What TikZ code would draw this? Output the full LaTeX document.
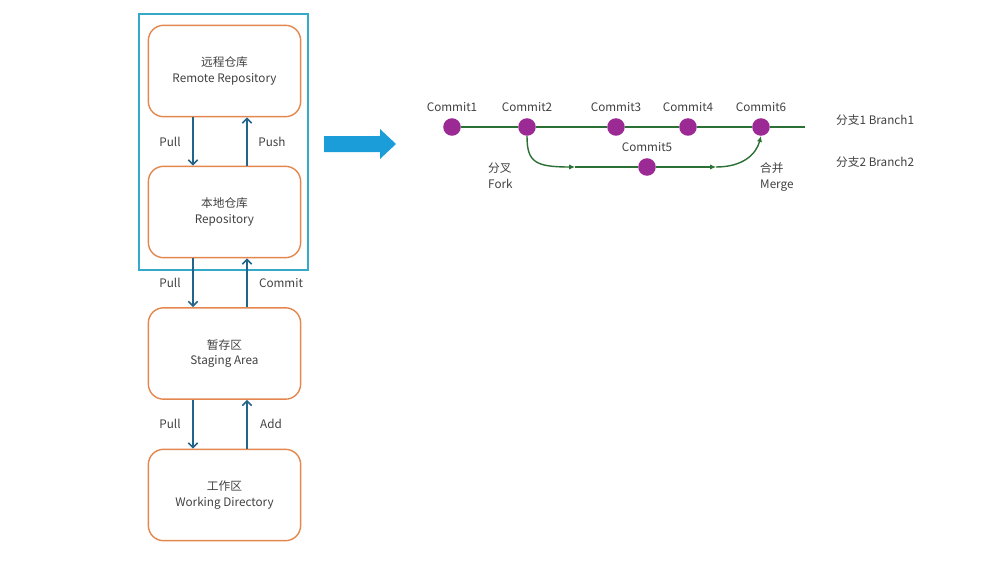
\documentclass[tikz,border=0pt]{standalone}
\usepackage{fontspec}
\setmainfont{Noto Sans CJK SC}
\usetikzlibrary{arrows.meta}
\definecolor{framecol}{HTML}{35A9CC}
\definecolor{areacol}{HTML}{E4874E}
\definecolor{flowcol}{HTML}{23648A}
\definecolor{bigcol}{HTML}{1B9DD9}
\definecolor{commitcol}{HTML}{9C2A94}
\definecolor{branchcol}{HTML}{2B7034}
\definecolor{textcol}{HTML}{404040}
\begin{document}
\begin{tikzpicture}[x=0.03cm,y=-0.03cm]
\tikzstyle{every node}+=[inner sep=0pt, text=textcol, font=\fontsize{10}{13.6}\selectfont]
\tikzstyle{area}=[draw=areacol, line width=1.2pt, rounded corners=13pt, minimum width=130pt, minimum height=78pt, align=center]
\tikzstyle{flow}=[draw=flowcol, line width=1.5pt, -{Straight Barb[length=4pt,width=8pt,line width=1.3pt]}]
\tikzstyle{commit}=[circle, fill=commitcol, minimum size=15pt]
\tikzstyle{branch}=[draw=branchcol, line width=1.2pt]
\tikzstyle{tip}=[-{Latex[length=5pt,width=4.5pt]}]
\useasboundingbox (0,0) rectangle (1000,562);

\draw [framecol, line width=1.2pt] (139,14) rectangle (308,270);

\node [area] (remote) at (224.5,71) {远程仓库\\Remote Repository};
\node [area] (local) at (224.5,212) {本地仓库\\Repository};
\node [area] (stage) at (224.5,353.5) {暂存区\\Staging Area};
\node [area] (work) at (224.5,495) {工作区\\Working Directory};

\coordinate (downx) at (193,0);
\coordinate (upx) at (247,0);
\draw [flow] (remote.south -| downx) -- (local.north -| downx);
\draw [flow] (local.north -| upx) -- (remote.south -| upx);
\draw [flow] (local.south -| downx) -- (stage.north -| downx);
\draw [flow] (stage.north -| upx) -- (local.south -| upx);
\draw [flow] (stage.south -| downx) -- (work.north -| downx);
\draw [flow] (work.north -| upx) -- (stage.south -| upx);
\node (pull1) at (170,142) {Pull};
\node (push) at (272,142) {Push};
\node (pull2) at (170,283) {Pull};
\node (commitlbl) at (281,283) {Commit};
\node (pull3) at (170,424) {Pull};
\node (add) at (271,424) {Add};

\fill [bigcol] (324,136) -- (380,136) -- (380,129) -- (396,144) -- (380,159) -- (380,152) -- (324,152) -- cycle;

\node [commit, label={[label distance=5pt]above:Commit1}] (c1) at (452,127) {};
\node [commit, label={[label distance=5pt]above:Commit2}] (c2) at (527,127) {};
\node [commit, label={[label distance=5pt]above:Commit3}] (c3) at (616,127) {};
\node [commit, label={[label distance=5pt]above:Commit4}] (c4) at (688,127) {};
\node [commit, label={[label distance=5pt]above:Commit6}] (c6) at (761,127) {};
\node [commit, label={[label distance=5pt]above:Commit5}] (c5) at (647,167) {};
\coordinate (b1end) at (805,127);
\coordinate (forkend) at (575,167);
\coordinate (mergestart) at (716,167);

\draw [branch] (c1) -- (c2) -- (c3) -- (c4) -- (c6) -- (b1end);
\draw [branch, tip] (c2.south) .. controls (527,162) and (535,167) .. (forkend);
\draw [branch] (forkend) -- (c5);
\draw [branch, tip] (c5) -- (mergestart);
\draw [branch, tip] (mergestart) .. controls (742,167) and (756,155) .. (c6.south);

\node [align=left, anchor=west] (fork) at (488,176) {分叉\\Fork};
\node [align=left, anchor=west] (merge) at (760,177) {合并\\Merge};
\node [anchor=west] (branch1) at (836,120) {分支1 Branch1};
\node [anchor=west] (branch2) at (836,162) {分支2 Branch2};
\end{tikzpicture}
\end{document}
